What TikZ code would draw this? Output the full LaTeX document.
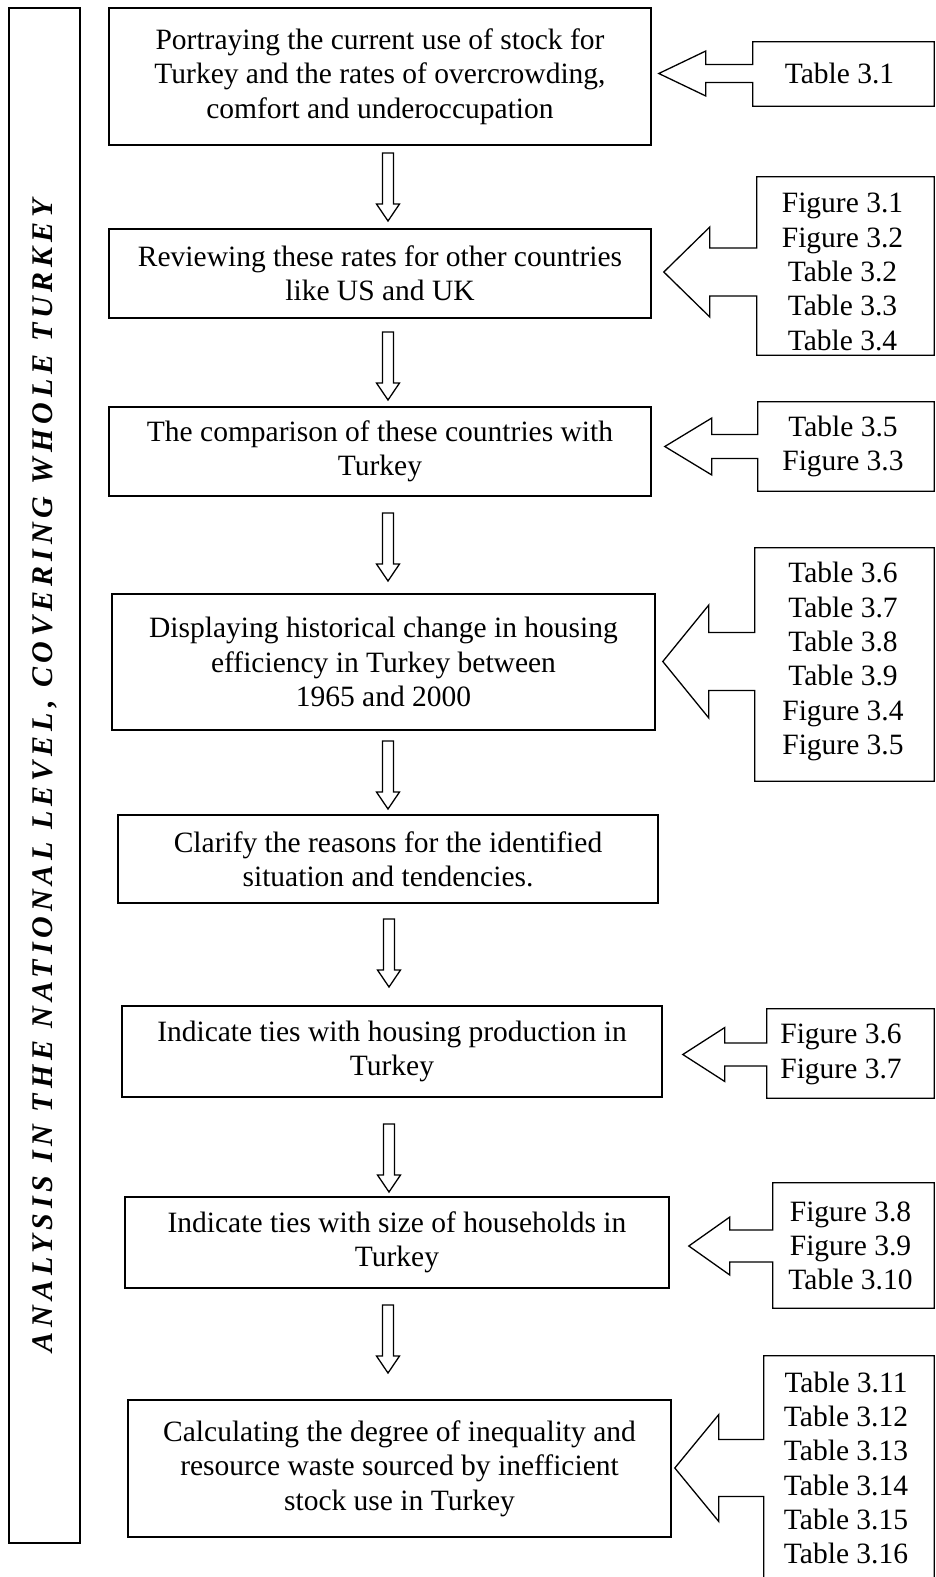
\documentclass[tikz,border=0pt]{standalone}
\usepackage{fontspec}
\setmainfont{Liberation Serif}
\newfontfamily\railfont[LetterSpace=16.5]{Liberation Serif}
\usetikzlibrary{calc}
\colorlet{line-color}{black}
\tikzset{
    pics/downarrow/.style = {
        code = {%
        \draw[line-color, line width=1.3pt, line join=miter]
              (-5.5,0) -- (5.5,0) -- (5.5,51) -- (11.5,51)
           -- (0,68) -- (-11.5,51) -- (-5.5,51) -- cycle;
        }
    },
    stepbox/.style = {draw=line-color, line width=2.8pt, minimum width=542pt,
        inner sep=0pt, align=center, font=\fontsize{29.5}{34.3}\selectfont},
    rail/.style = {draw=line-color, line width=1.8pt, rotate=90, inner sep=0pt,
        minimum width=1535pt, minimum height=71pt,
        font=\railfont\bfseries\itshape\fontsize{30}{34}\selectfont},
    refframe/.style = {inner sep=0pt},
    reftext/.style = {inner sep=0pt, align=center, font=\fontsize{29.5}{34.3}\selectfont},
    refline/.style = {line-color, line width=1.3pt, line join=miter}
}
% #1 text node, #2 frame, #3 half shaft, #4 half head, #5 shaft length, #6 head length
\newcommand{\callout}[6]{%
    \draw[refline] (#2.north east) -- (#2.north west)
        -- ($(#2.west |- #1)+(0,-#3)$) -- ++(-#5,0) -- ++(0,#3-#4)
        -- ++(-#6,#4) -- ++(#6,#4) -- ++(0,#3-#4) -- ++(#5,0)
        -- (#2.south west) -- (#2.south east) -- cycle;
}

\begin{document}
\begin{tikzpicture}[x=1pt,y=-1pt]
\useasboundingbox (0,0) rectangle (936,1577);

\node[rail] (rail) at (44.5,775.5) {ANALYSIS IN THE NATIONAL LEVEL, COVERING WHOLE TURKEY};

\node[stepbox, minimum height=137pt] (b1) at (380,76.5)
    {Portraying the current use of stock for\\Turkey and the rates of overcrowding,\\comfort and underoccupation};
\node[stepbox, minimum height=89pt] (b2) at (380,273.5)
    {Reviewing these rates for other countries\\like US and UK};
\node[stepbox, minimum height=89pt] (b3) at (380,451.5)
    {The comparison of these countries with\\Turkey};
\node[stepbox, minimum height=136pt, minimum width=543pt] (b4) at (383.5,662)
    {Displaying historical change in housing\\efficiency in Turkey between\\1965 and 2000};
\node[stepbox, minimum height=88pt, minimum width=540pt] (b5) at (388,859)
    {Clarify the reasons for the identified\\situation and tendencies.};
\node[stepbox, minimum height=91pt, minimum width=540pt] (b6) at (392,1051.5)
    {Indicate ties with housing production in\\Turkey};
\node[stepbox, minimum height=91pt, minimum width=544pt] (b7) at (397,1242.5)
    {Indicate ties with size of households in\\Turkey};
\node[stepbox, minimum height=137pt, minimum width=543pt] (b8) at (399.5,1468.5)
    {Calculating the degree of inequality and\\resource waste sourced by inefficient\\stock use in Turkey};

\pic (d1) at (388,153) {downarrow};
\pic (d2) at (388,332) {downarrow};
\pic (d3) at (388,513) {downarrow};
\pic (d4) at (388,741) {downarrow};
\pic (d5) at (389,919) {downarrow};
\pic (d6) at (389,1124) {downarrow};
\pic (d7) at (388,1305) {downarrow};

\node[refframe, minimum width=181pt, minimum height=64pt] (r1) at (843.5,74) {};
\node[reftext] (t1) at (839.5,73.5) {Table 3.1};
\callout{t1}{r1}{9}{22.5}{47}{47}

\node[refframe, minimum width=177pt, minimum height=178pt] (r2) at (845.5,266) {};
\node[reftext] (t2) at (842.5,272) {Figure 3.1\\Figure 3.2\\Table 3.2\\Table 3.3\\Table 3.4};
\callout{t2}{r2}{24}{45}{47}{46}

\node[refframe, minimum width=176pt, minimum height=89pt] (r3) at (846,446.5) {};
\node[reftext] (t3) at (843,446.5) {Table 3.5\\Figure 3.3};
\callout{t3}{r3}{12}{28.5}{46}{47}

\node[refframe, minimum width=179pt, minimum height=233pt] (r4) at (844.5,664.5) {};
\node[reftext] (t4) at (843,661.5) {Table 3.6\\Table 3.7\\Table 3.8\\Table 3.9\\Figure 3.4\\Figure 3.5};
\callout{t4}{r4}{29}{56.5}{46}{46}

\node[refframe, minimum width=167pt, minimum height=89pt] (r5) at (850.5,1053.5) {};
\node[reftext] (t5) at (841,1054.5) {Figure 3.6\\Figure 3.7};
\callout{t5}{r5}{11.5}{27}{42}{42}

\node[refframe, minimum width=161pt, minimum height=125pt] (r6) at (853.5,1245.5) {};
\node[reftext] (t6) at (850.5,1246) {Figure 3.8\\Figure 3.9\\Table 3.10};
\callout{t6}{r6}{16}{29}{43}{41}

\node[refframe, minimum width=170pt, minimum height=246pt] (r7) at (849,1479) {};
\node[reftext] (t7) at (846,1468) {Table 3.11\\Table 3.12\\Table 3.13\\Table 3.14\\Table 3.15\\Table 3.16};
\callout{t7}{r7}{28.5}{53.5}{45}{44}
\end{tikzpicture}
\end{document}
